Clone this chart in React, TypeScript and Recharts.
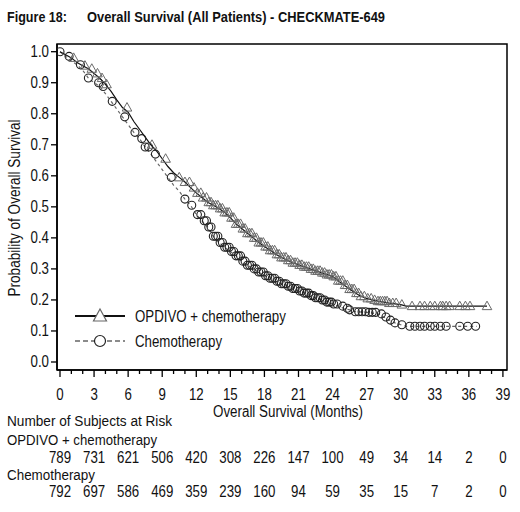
import React from 'react';
import { ComposedChart, Line, Scatter, XAxis, YAxis, ReferenceArea, Legend } from 'recharts';

const FONT = '"Liberation Sans", Arial, sans-serif';
const SX = 0.83; // narrow look, like a condensed face

// Kaplan-Meier estimates (months, probability)
const opdivoMonths = [0, 0.5, 1, 1.5, 2, 2.5, 3, 3.5, 4, 4.5, 5, 5.5, 6, 6.5, 7, 7.5, 8, 8.5, 9, 9.5, 10, 10.5, 11, 11.5, 12, 12.5, 13, 13.5, 14, 14.5, 15, 15.5, 16, 16.5, 17, 17.5, 18, 18.5, 19, 19.5, 20, 20.5, 21, 21.5, 22, 22.5, 23, 23.5, 24, 24.5, 25, 25.5, 26, 26.5, 27, 27.5, 28, 29, 30, 30.5, 37.6];
const opdivoSurv = [1, 0.99, 0.98, 0.965, 0.955, 0.945, 0.93, 0.915, 0.895, 0.872, 0.845, 0.82, 0.805, 0.775, 0.75, 0.725, 0.7, 0.68, 0.655, 0.63, 0.61, 0.595, 0.58, 0.562, 0.545, 0.53, 0.515, 0.505, 0.495, 0.482, 0.465, 0.445, 0.43, 0.415, 0.4, 0.385, 0.372, 0.36, 0.347, 0.337, 0.328, 0.32, 0.313, 0.307, 0.3, 0.294, 0.288, 0.282, 0.276, 0.262, 0.248, 0.235, 0.222, 0.212, 0.205, 0.2, 0.196, 0.19, 0.185, 0.18, 0.18];

const chemoMonths = [0, 0.5, 1, 1.5, 2, 2.5, 3, 3.5, 4, 4.5, 5, 5.5, 6, 6.5, 7, 7.5, 8, 8.5, 9, 9.5, 10, 10.5, 11, 11.5, 12, 12.5, 13, 13.5, 14, 14.5, 15, 15.5, 16, 16.5, 17, 17.5, 18, 18.5, 19, 19.5, 20, 20.5, 21, 21.5, 22, 22.5, 23, 23.5, 24, 24.5, 25, 25.5, 26, 27, 28, 28.5, 29, 29.5, 30, 30.5, 36.7];
const chemoSurv = [1, 0.985, 0.97, 0.958, 0.94, 0.915, 0.9, 0.888, 0.865, 0.84, 0.815, 0.79, 0.765, 0.74, 0.72, 0.693, 0.67, 0.645, 0.62, 0.595, 0.57, 0.55, 0.525, 0.505, 0.475, 0.455, 0.435, 0.405, 0.385, 0.37, 0.356, 0.342, 0.325, 0.312, 0.3, 0.29, 0.278, 0.27, 0.26, 0.252, 0.244, 0.237, 0.229, 0.222, 0.214, 0.207, 0.2, 0.193, 0.187, 0.18, 0.173, 0.168, 0.162, 0.16, 0.155, 0.145, 0.135, 0.126, 0.12, 0.115, 0.115];

// censoring times
const opdivoCensor = [1.2, 2.2, 2.8, 3.3, 3.7, 4.1, 5.9, 8.1, 9.3, 10.5, 11.0, 11.4, 11.8, 12.1, 12.4, 12.6, 12.9, 13.1, 13.3, 13.5, 13.7, 13.9, 14.1, 14.3, 14.5, 14.7, 14.9, 15.1, 15.3, 15.5, 15.7, 15.9, 16.1, 16.3, 16.5, 16.7, 16.9, 17.1, 17.3, 17.5, 17.7, 17.9, 18.1, 18.3, 18.5, 18.7, 18.9, 19.1, 19.3, 19.5, 19.7, 19.9, 20.1, 20.3, 20.5, 20.7, 20.9, 21.1, 21.3, 21.5, 21.7, 21.9, 22.1, 22.3, 22.5, 22.7, 22.9, 23.1, 23.3, 23.5, 23.7, 23.9, 24.1, 24.3, 24.5, 24.7, 24.9, 25.1, 25.3, 25.5, 25.7, 25.9, 26.1, 26.3, 26.5, 26.8, 27.1, 27.4, 27.7, 28.0, 28.2, 28.4, 28.6, 28.8, 29.0, 29.3, 29.6, 30.1, 31.0, 31.7, 32.1, 32.6, 33.0, 33.5, 33.7, 34.0, 34.3, 35.2, 35.7, 36.1, 37.6];
const chemoCensor = [0, 0.8, 1.8, 2.5, 3.4, 3.8, 4.6, 5.7, 6.6, 7.2, 7.5, 7.8, 8.4, 9.8, 11.0, 11.6, 12.1, 12.4, 12.7, 12.9, 13.1, 13.3, 13.5, 13.7, 13.9, 14.1, 14.3, 14.5, 14.7, 14.9, 15.1, 15.3, 15.5, 15.7, 15.9, 16.1, 16.3, 16.5, 16.7, 16.9, 17.1, 17.3, 17.5, 17.7, 17.9, 18.1, 18.3, 18.5, 18.7, 18.9, 19.1, 19.3, 19.5, 19.7, 19.9, 20.1, 20.3, 20.5, 20.7, 20.9, 21.1, 21.3, 21.5, 21.7, 21.9, 22.1, 22.3, 22.5, 22.7, 22.9, 23.1, 23.3, 23.5, 23.7, 23.9, 24.1, 24.4, 24.9, 25.3, 25.5, 26.0, 26.3, 26.6, 26.9, 27.2, 27.5, 27.8, 28.3, 28.7, 29.1, 29.5, 30.1, 30.8, 31.25, 31.7, 32.1, 32.6, 33.0, 33.5, 34.0, 35.2, 35.9, 36.6];

const monthLabels = [0, 3, 6, 9, 12, 15, 18, 21, 24, 27, 30, 33, 36, 39];
const probTicks = [0, 0.1, 0.2, 0.3, 0.4, 0.5, 0.6, 0.7, 0.8, 0.9, 1.0];
const opdivoRisk = [789, 731, 621, 506, 420, 308, 226, 147, 100, 49, 34, 14, 2, 0];
const chemoRisk = [792, 697, 586, 469, 359, 239, 160, 94, 59, 35, 15, 7, 2, 0];

const X_DOMAIN: [number, number] = [-0.264, 39.36];
const Y_DOMAIN: [number, number] = [-0.0258, 1.0248];

const stepAt = (ts: number[], ss: number[], t: number) => {
  let v = ss[0];
  for (let i = 0; i < ts.length; i++) if (ts[i] <= t) v = ss[i];
  return v;
};

const opdivoLine = opdivoMonths.map((x, i) => ({ x, y: opdivoSurv[i] }));
const chemoLine = chemoMonths.map((x, i) => ({ x, y: chemoSurv[i] }));
const opdivoMarks = opdivoCensor.map(x => ({ x, y: stepAt(opdivoMonths, opdivoSurv, x) }));
const chemoMarks = chemoCensor.map(x => ({ x, y: stepAt(chemoMonths, chemoSurv, x) }));

const allMonths = Array.from({ length: 40 }, (_, i) => i);

const NText = ({ x, y, anchor = 'start', size = 16, children }: any) => (
  <text transform={`translate(${x},${y}) scale(${SX},1)`} textAnchor={anchor} fontSize={size} fontFamily={FONT} fill="#111">
    {children}
  </text>
);

const Triangle = (props: any) => {
  const { cx, cy } = props;
  return <path d={`M${cx},${cy - 5} L${cx + 4.8},${cy + 3.5} L${cx - 4.8},${cy + 3.5} Z`} fill="none" stroke="#6a6a6a" strokeWidth={1} />;
};

const Circle = (props: any) => {
  const { cx, cy } = props;
  return <circle cx={cx} cy={cy} r={4} fill="none" stroke="#222" strokeWidth={1.1} />;
};

const MonthTick = (props: any) => {
  const { x, y, payload } = props;
  const v = payload.value;
  const idx = monthLabels.indexOf(v);
  const major = idx >= 0;
  return (
    <g>
      <line x1={x} x2={x} y1={y} y2={y + (major ? 7 : 4)} stroke="#000" strokeWidth={1.3} />
      {major && <NText x={x} y={y + 30} anchor="middle">{v}</NText>}
      {major && <NText x={x} y={y + 93} anchor="middle">{opdivoRisk[idx]}</NText>}
      {major && <NText x={x} y={y + 127} anchor="middle">{chemoRisk[idx]}</NText>}
    </g>
  );
};

const ProbTick = (props: any) => {
  const { x, y, payload } = props;
  return <NText x={x} y={y + 5.5} anchor="end">{payload.value.toFixed(1)}</NText>;
};

const legendItems = [
  { name: 'OPDIVO + chemotherapy', dashed: false },
  { name: 'Chemotherapy', dashed: true },
];

const renderLegend = () => (
  <svg width={240} height={50}>
    {legendItems.map((item, i) => {
      const cy = 13 + i * 25;
      return (
        <g key={item.name}>
          <line x1={5} x2={55} y1={cy} y2={cy} stroke={item.dashed ? '#666' : '#111'} strokeWidth={item.dashed ? 1.6 : 2} strokeDasharray={item.dashed ? '5 3' : undefined} />
          {item.dashed
            ? <circle cx={30} cy={cy} r={5.5} fill="#fff" stroke="#222" strokeWidth={1.2} />
            : <path d={`M30,${cy - 7} L36.5,${cy + 5} L23.5,${cy + 5} Z`} fill="#fff" stroke="#666" strokeWidth={1.2} />}
          <NText x={65} y={cy + 6}>{item.name}</NText>
        </g>
      );
    })}
  </svg>
);

export default function App() {
  return (
    <div style={{ position: 'absolute', left: 0, top: 0, width: 520, height: 512, background: '#fff' }}>
      <ComposedChart width={520} height={512} margin={{ top: 44, right: 13, left: 0, bottom: 0 }}>
        <XAxis
          type="number"
          dataKey="x"
          domain={X_DOMAIN}
          ticks={allMonths}
          interval={0}
          allowDataOverflow
          height={142}
          tickSize={0}
          tickMargin={0}
          tickLine={false}
          axisLine={{ stroke: '#000', strokeWidth: 1.5 }}
          tick={<MonthTick />}
        />
        <YAxis
          type="number"
          dataKey="y"
          domain={Y_DOMAIN}
          ticks={probTicks}
          interval={0}
          allowDataOverflow
          width={57}
          tickSize={6}
          tickMargin={2}
          tick={<ProbTick />}
          tickLine={{ stroke: '#000', strokeWidth: 1.3 }}
          axisLine={{ stroke: '#000', strokeWidth: 1.5 }}
        />
        <ReferenceArea x1={X_DOMAIN[0]} x2={X_DOMAIN[1]} y1={Y_DOMAIN[0]} y2={Y_DOMAIN[1]} fill="none" stroke="#000" strokeWidth={1.5} ifOverflow="visible" />
        <Line data={chemoLine} dataKey="y" type="linear" stroke="#666" strokeWidth={1.2} strokeDasharray="3 3" dot={false} isAnimationActive={false} />
        <Line data={opdivoLine} dataKey="y" type="linear" stroke="#111" strokeWidth={1.2} dot={false} isAnimationActive={false} />
        <Scatter data={chemoMarks} dataKey="y" shape={Circle} isAnimationActive={false} />
        <Scatter data={opdivoMarks} dataKey="y" shape={Triangle} isAnimationActive={false} />
        <Legend
          layout="horizontal"
          verticalAlign="middle"
          align="center"
          content={renderLegend}
          wrapperStyle={{ position: 'absolute', left: 70, top: 303, width: 240, height: 50 }}
        />
      </ComposedChart>
      <svg width={520} height={512} style={{ position: 'absolute', left: 0, top: 0, pointerEvents: 'none' }}>
        <g fontFamily={FONT} fill="#111">
          <text x={7} y={22} fontSize={14} fontWeight="bold" textLength={60} lengthAdjust="spacingAndGlyphs">Figure 18:</text>
          <text x={87} y={22} fontSize={14} fontWeight="bold" textLength={298} lengthAdjust="spacingAndGlyphs">Overall Survival (All Patients) - CHECKMATE-649</text>
          <text transform="translate(20,208) rotate(-90)" textAnchor="middle" fontSize={16} textLength={177} lengthAdjust="spacingAndGlyphs">Probability of Overall Survival</text>
          <text x={213} y={417} fontSize={16} textLength={150} lengthAdjust="spacingAndGlyphs">Overall Survival (Months)</text>
          <text x={7} y={426} fontSize={15.5} textLength={165} lengthAdjust="spacingAndGlyphs">Number of Subjects at Risk</text>
          <text x={7} y={445} fontSize={15.5} textLength={150} lengthAdjust="spacingAndGlyphs">OPDIVO + chemotherapy</text>
          <text x={7} y={479.5} fontSize={15.5} textLength={88} lengthAdjust="spacingAndGlyphs">Chemotherapy</text>
        </g>
      </svg>
    </div>
  );
}
